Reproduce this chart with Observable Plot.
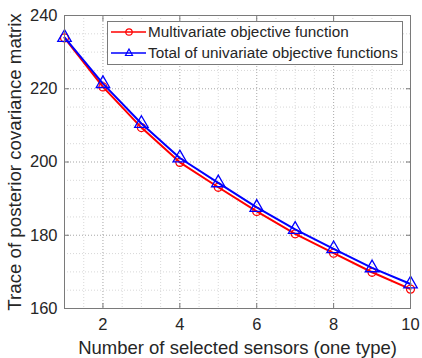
<!DOCTYPE html>
<html><head><meta charset="utf-8">
<script src="https://cdn.jsdelivr.net/npm/d3@7"></script>
<script src="https://cdn.jsdelivr.net/npm/@observablehq/plot@0.6"></script>
<style>
body{margin:0;background:#fff;}
#wrap{position:relative;width:422px;height:358px;font-family:"Liberation Sans",Arial,sans-serif;color:#262626;}
#legend{position:absolute;left:107px;top:21px;width:296px;height:44px;border:1px solid #7a7a7a;background:#fff;box-sizing:border-box;}
.row{position:absolute;left:0px;height:20px;display:flex;align-items:center;font-size:15.3px;white-space:nowrap;}
.row svg{margin-right:1px;}
</style></head><body>
<div id="wrap"></div>
<script>
const sensors = [1, 2, 3, 4, 5, 6, 7, 8, 9, 10];
const multivariate = [233.9, 220.5, 209.4, 199.9, 193.1, 186.5, 180.4, 175.1, 169.9, 165.3];
const univariateTotal = [234.0, 221.4, 210.5, 201.1, 194.3, 187.6, 181.6, 176.3, 171.1, 166.7];
const seriesNames = ["Multivariate objective function", "Total of univariate objective functions"];
const seriesColors = ["#ff0000", "#0000ff"];
const xTicks = [2, 4, 6, 8, 10];
const yTicks = [160, 180, 200, 220, 240];
const xLabel = "Number of selected sensors (one type)";
const yLabel = "Trace of posterior covariance matrix";

const red = sensors.map((x, i) => ({x, y: multivariate[i]}));
const blue = sensors.map((x, i) => ({x, y: univariateTotal[i]}));
const xMinor = d3.range(1, 10.001, 0.5);
const yMinor = d3.range(160, 240.001, 5);
const grid = {stroke: "#262626", strokeOpacity: 0.18, strokeDasharray: "1,2"};
const axisColor = "#7a7a7a";

const chart = Plot.plot({
  width: 422, height: 358,
  marginLeft: 64, marginRight: 12, marginTop: 15, marginBottom: 50,
  style: {fontFamily: "Liberation Sans, Arial, sans-serif", color: "#262626", background: "#fff"},
  x: {domain: [1, 10]},
  y: {domain: [160, 240]},
  marks: [
    Plot.ruleX(xMinor, grid),
    Plot.ruleY(yMinor, grid),
    Plot.ruleX(xTicks, {...grid, strokeOpacity: 0.25}),
    Plot.ruleY(yTicks, {...grid, strokeOpacity: 0.25}),
    Plot.line(red, {x: "x", y: "y", stroke: seriesColors[0], strokeWidth: 2}),
    Plot.dot(red, {x: "x", y: "y", stroke: seriesColors[0], symbol: "circle", r: 4, strokeWidth: 1.3}),
    Plot.line(blue, {x: "x", y: "y", stroke: seriesColors[1], strokeWidth: 2}),
    Plot.dot(blue, {x: "x", y: "y", stroke: seriesColors[1], symbol: "triangle", r: 5, strokeWidth: 1.3}),
    Plot.frame({stroke: axisColor}),
    Plot.axisX(xTicks, {anchor: "bottom", tickSize: -5, fill: "none", stroke: axisColor, label: null}),
    Plot.axisX(xTicks, {anchor: "top", tickSize: -5, fill: "none", stroke: axisColor, label: null}),
    Plot.axisY(yTicks, {anchor: "left", tickSize: -5, fill: "none", stroke: axisColor, label: null}),
    Plot.axisY(yTicks, {anchor: "right", tickSize: -5, fill: "none", stroke: axisColor, label: null}),
    Plot.axisX(xTicks, {anchor: "bottom", tickSize: 0, tickPadding: 10, fontSize: 16.5, fill: "#262626", label: null}),
    Plot.axisY(yTicks, {anchor: "left", tickSize: 0, tickPadding: 7, fontSize: 16.5, fill: "#262626", label: null}),
    Plot.text([xLabel], {text: d => d, frameAnchor: "bottom", dy: 45, lineAnchor: "bottom", textAnchor: "middle", fontSize: 18.5, fill: "#262626"}),
    Plot.text([yLabel], {text: d => d, frameAnchor: "left", dx: -57, rotate: -90, lineAnchor: "top", textAnchor: "middle", fontSize: 18.7, fill: "#262626"})
  ]
});
const wrap = document.getElementById("wrap");
wrap.appendChild(chart);

const legend = document.createElement("div");
legend.id = "legend";
const syms = [
  '<circle cx="21" cy="10" r="3.2" fill="none" stroke="#ff0000" stroke-width="1.2"/>',
  '<path d="M21,6 L24.5,12.5 L17.5,12.5 Z" fill="none" stroke="#0000ff" stroke-width="1.2"/>'
];
seriesNames.forEach((name, i) => {
  const row = document.createElement("div");
  row.className = "row";
  row.style.top = (0 + i * 21) + "px";
  row.innerHTML = `<svg width="39" height="20"><line x1="3" y1="10" x2="38" y2="10" stroke="${seriesColors[i]}" stroke-width="1.6"/>${syms[i]}</svg><span>${name}</span>`;
  legend.appendChild(row);
});
wrap.appendChild(legend);
</script>
</body></html>
